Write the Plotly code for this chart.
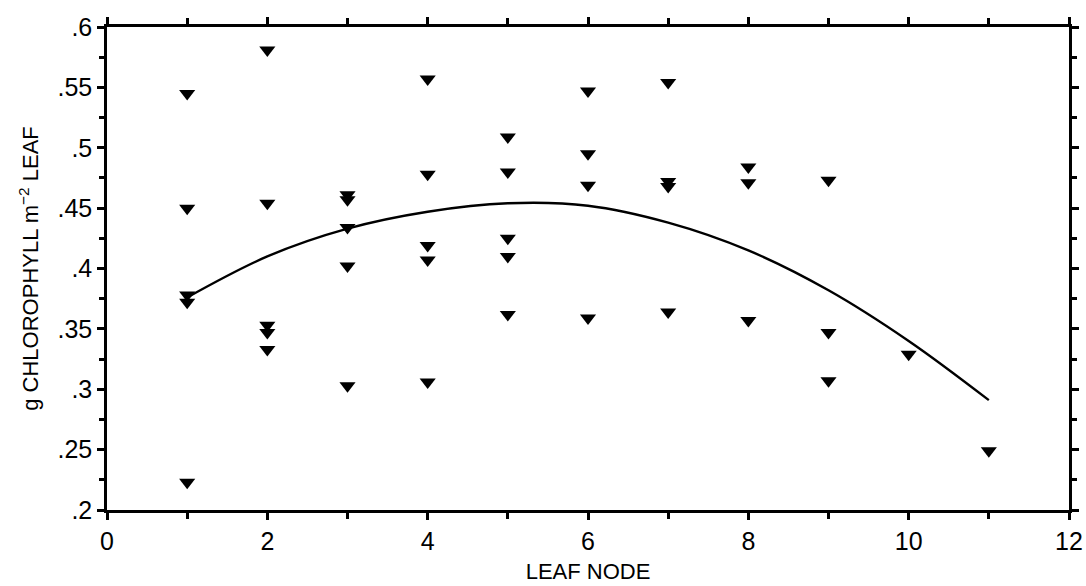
import plotly.graph_objects as go

# Observed data (leaf node, g chlorophyll m^-2 leaf)
node_x = [1, 1, 1, 1, 1,
          2, 2, 2, 2, 2,
          3, 3, 3, 3, 3,
          4, 4, 4, 4, 4,
          5, 5, 5, 5, 5,
          6, 6, 6, 6,
          7, 7, 7, 7,
          8, 8, 8,
          9, 9, 9,
          10,
          11]
chl_y = [0.545, 0.450, 0.378, 0.372, 0.223,
         0.581, 0.454, 0.353, 0.347, 0.333,
         0.461, 0.457, 0.434, 0.402, 0.303,
         0.557, 0.478, 0.419, 0.407, 0.306,
         0.509, 0.480, 0.425, 0.410, 0.362,
         0.547, 0.495, 0.469, 0.359,
         0.554, 0.472, 0.468, 0.364,
         0.484, 0.471, 0.357,
         0.473, 0.347, 0.307,
         0.329,
         0.249]

# Fitted curve
fit_x = [1, 2, 3, 4, 5, 6, 7, 8, 9, 10, 11]
fit_y = [0.376, 0.410, 0.433, 0.447, 0.454, 0.452, 0.438, 0.415, 0.382, 0.340, 0.291]

y_tickvals = [0.2, 0.25, 0.3, 0.35, 0.4, 0.45, 0.5, 0.55, 0.6]
y_ticktext = [".2", ".25", ".3", ".35", ".4", ".45", ".5", ".55", ".6"]
x_tickvals = [0, 2, 4, 6, 8, 10, 12]

fig = go.Figure()
fig.add_trace(go.Scatter(x=fit_x, y=fit_y, mode="lines",
                         line=dict(color="black", width=2.4, shape="spline"),
                         showlegend=False, hoverinfo="skip"))
fig.add_trace(go.Scatter(x=node_x, y=chl_y, mode="markers",
                         marker=dict(symbol="triangle-down", size=14, color="black"),
                         showlegend=False))

font_main = "Liberation Sans, Arial, sans-serif"

fig.update_layout(
    width=1086, height=586,
    margin=dict(l=107, r=17, t=27, b=76),
    paper_bgcolor="white", plot_bgcolor="white",
    font=dict(family=font_main, color="black"),
    xaxis=dict(range=[0, 12], tickvals=x_tickvals, ticktext=[str(v) for v in x_tickvals],
               ticks="outside", ticklen=7, tickwidth=2.5, tickcolor="black",
               showline=True, linecolor="black", linewidth=2.5, mirror="ticks",
               showgrid=False, zeroline=False, automargin=False,
               tickfont=dict(size=25, family=font_main),
               minor=dict(dtick=1, ticks="outside", ticklen=6, tickwidth=2.5, tickcolor="black", showgrid=False),
               title=dict(text="LEAF NODE", font=dict(size=22, family=font_main), standoff=10)),
    yaxis=dict(range=[0.2, 0.6], tickvals=y_tickvals, ticktext=y_ticktext,
               ticks="outside", ticklen=7, tickwidth=2.5, tickcolor="black",
               showline=True, linecolor="black", linewidth=2.5, mirror="ticks",
               showgrid=False, zeroline=False, automargin=False,
               tickfont=dict(size=25, family=font_main),
               minor=dict(dtick=0.025, tick0=0.2, ticks="outside", ticklen=5, tickwidth=2.5, tickcolor="black", showgrid=False),
               title=dict(text="g CHLOROPHYLL m<sup>\u22122</sup> LEAF", font=dict(size=22, family=font_main), standoff=13)),
)

fig.write_html("out.html")
